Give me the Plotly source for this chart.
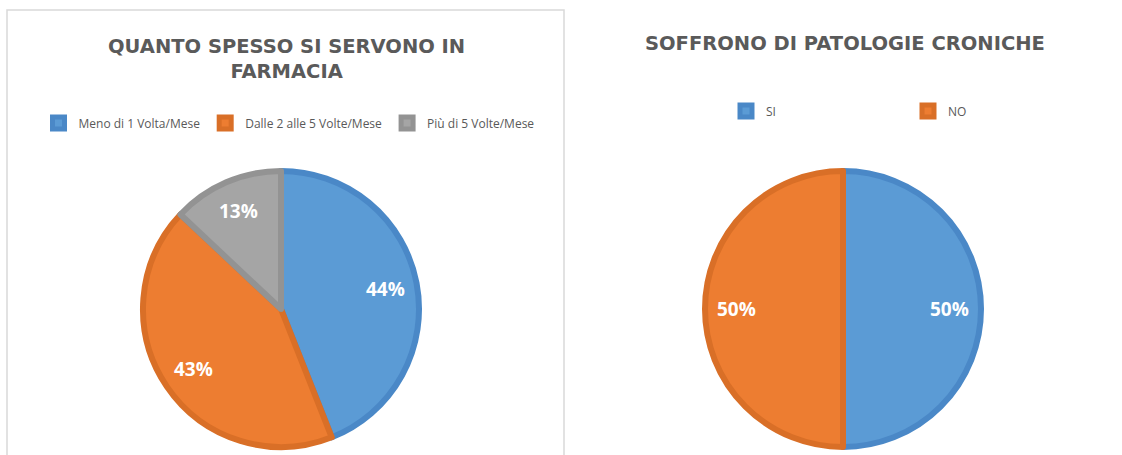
import math
import plotly.graph_objects as go

W, H = 1122, 455

# Data
freq_labels = ["Meno di 1 Volta/Mese", "Dalle 2 alle 5 Volte/Mese", "Più di 5 Volte/Mese"]
freq_values = [44, 43, 13]
chron_labels = ["SI", "NO"]
chron_values = [50, 50]

title_left = "QUANTO SPESSO SI SERVONO IN<br>FARMACIA"
title_right = "SOFFRONO DI PATOLOGIE CRONICHE"

fill_colors = ["#5B9BD5", "#ED7D31", "#A5A5A5"]
edge_colors = ["#4A88C7", "#D96F27", "#939393"]


def px_x(v):
    return v / W


def px_y(v):
    return 1 - v / H


R = 138
lc = (281, 309)
rc = (843, 309)

label_font = dict(color="white", size=19, family="Open Sans", weight="bold")


def pct_annotations(values, center, frac=0.77):
    """Percent labels placed along each slice's mid-angle (clockwise from 12 o'clock)."""
    total = sum(values)
    out = []
    cum = 0
    for v in values:
        mid = (cum + v / 2) / total * 2 * math.pi
        cum += v
        x = center[0] + frac * R * math.sin(mid)
        y = center[1] - frac * R * math.cos(mid)
        out.append(dict(text=f"{round(100 * v / total)}%", x=px_x(x), y=px_y(y),
                        xref="paper", yref="paper", showarrow=False,
                        xanchor="center", yanchor="middle", font=label_font))
    return out


fig = go.Figure()
fig.add_trace(go.Pie(
    labels=freq_labels, values=freq_values, sort=False, direction="clockwise", rotation=0,
    marker=dict(colors=fill_colors, line=dict(color=edge_colors, width=6)),
    textinfo="none",
    domain=dict(x=[px_x(lc[0] - R), px_x(lc[0] + R)], y=[px_y(lc[1] + R), px_y(lc[1] - R)]),
    legend="legend", hoverinfo="label+percent",
))
fig.add_trace(go.Pie(
    labels=chron_labels, values=chron_values, sort=False, direction="clockwise", rotation=0,
    marker=dict(colors=fill_colors[:2], line=dict(color=edge_colors[:2], width=6)),
    textinfo="none",
    domain=dict(x=[px_x(rc[0] - R), px_x(rc[0] + R)], y=[px_y(rc[1] + R), px_y(rc[1] - R)]),
    legend="legend2", hoverinfo="label+percent",
))

title_font = dict(family="DejaVu Sans", size=19.5, color="#5A5A5A", weight="bold")
legend_font = dict(family="Open Sans", size=12, color="#595959")

annotations = [
    dict(text=title_left, x=px_x(286), y=px_y(59), xref="paper", yref="paper",
         showarrow=False, font=title_font, align="center", xanchor="center", yanchor="middle"),
    dict(text=title_right, x=px_x(845), y=px_y(43), xref="paper", yref="paper",
         showarrow=False, font=title_font, align="center", xanchor="center", yanchor="middle"),
]
annotations += pct_annotations(freq_values, lc)
annotations += pct_annotations(chron_values, rc)

fig.update_layout(
    width=W, height=H, margin=dict(l=0, r=0, t=0, b=0),
    paper_bgcolor="white", plot_bgcolor="white",
    legend=dict(orientation="h", x=px_x(289), xanchor="center", y=px_y(123), yanchor="middle",
                font=legend_font, bgcolor="rgba(0,0,0,0)", traceorder="normal"),
    legend2=dict(orientation="h", x=px_x(908), xanchor="center", y=px_y(111), yanchor="middle",
                 font=legend_font, bgcolor="rgba(0,0,0,0)", entrywidth=137, entrywidthmode="pixels"),
    annotations=annotations,
    shapes=[
        dict(type="rect", xref="paper", yref="paper", x0=px_x(7), x1=px_x(564),
             y0=-0.1, y1=px_y(10), line=dict(color="#D9D9D9", width=1.5)),
    ],
)

fig.write_html("out.html", config={"displayModeBar": False},
               post_script="document.body.style.margin='0';")
